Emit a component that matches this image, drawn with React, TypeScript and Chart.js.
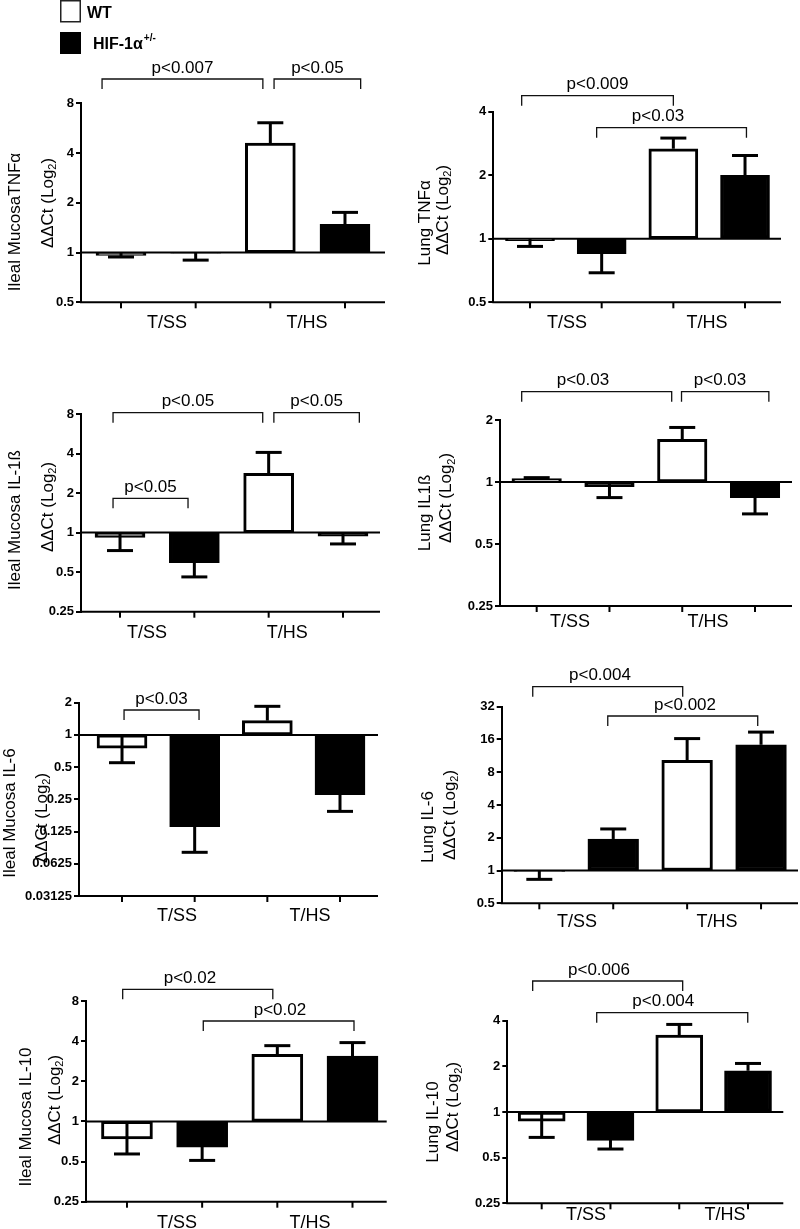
import React, { useEffect, useRef } from 'react';
import { Chart, registerables } from 'chart.js';

Chart.register(...registerables);

const FONT = "'Liberation Sans', Arial, Helvetica, sans-serif";
Chart.defaults.font.family = FONT;

// ---------------- data ----------------
const GROUPS = ['T/SS', 'T/HS'];
const SERIES = ['WT', 'HIF-1α'];
const SERIES_SUP = ['', '+/-'];

const TICKS_05_8 = [0.5, 1, 2, 4, 8];
const TICKS_05_8_LABELS = ['0.5', '1', '2', '4', '8'];
const TICKS_05_4 = [0.5, 1, 2, 4];
const TICKS_05_4_LABELS = ['0.5', '1', '2', '4'];
const TICKS_025_8 = [0.25, 0.5, 1, 2, 4, 8];
const TICKS_025_8_LABELS = ['0.25', '0.5', '1', '2', '4', '8'];
const TICKS_025_2 = [0.25, 0.5, 1, 2];
const TICKS_025_2_LABELS = ['0.25', '0.5', '1', '2'];
const TICKS_003_2 = [0.03125, 0.0625, 0.125, 0.25, 0.5, 1, 2];
const TICKS_003_2_LABELS = ['0.03125', '0.0625', '0.125', '0.25', '0.5', '1', '2'];
const TICKS_05_32 = [0.5, 1, 2, 4, 8, 16, 32];
const TICKS_05_32_LABELS = ['0.5', '1', '2', '4', '8', '16', '32'];
const TICKS_025_4 = [0.25, 0.5, 1, 2, 4];
const TICKS_025_4_LABELS = ['0.25', '0.5', '1', '2', '4'];

// mean (ΔΔCt fold) per group and the end of its error bar
const ILEAL_TNF_WT = [0.96, 4.6];
const ILEAL_TNF_WT_ERR = [0.94, 6.1];
const ILEAL_TNF_HIF = [0.99, 1.48];
const ILEAL_TNF_HIF_ERR = [0.9, 1.75];
const ILEAL_TNF_P = ['p<0.007', 'p<0.05'];

const LUNG_TNF_WT = [0.98, 2.67];
const LUNG_TNF_WT_ERR = [0.92, 3.0];
const LUNG_TNF_HIF = [0.85, 2.0];
const LUNG_TNF_HIF_ERR = [0.69, 2.48];
const LUNG_TNF_P = ['p<0.009', 'p<0.03'];

const ILEAL_IL1_WT = [0.92, 2.83];
const ILEAL_IL1_WT_ERR = [0.73, 4.08];
const ILEAL_IL1_HIF = [0.59, 0.94];
const ILEAL_IL1_HIF_ERR = [0.46, 0.82];
const ILEAL_IL1_P = ['p<0.05', 'p<0.05', 'p<0.05'];

const LUNG_IL1_WT = [1.04, 1.61];
const LUNG_IL1_WT_ERR = [1.05, 1.84];
const LUNG_IL1_HIF = [0.95, 0.84];
const LUNG_IL1_HIF_ERR = [0.84, 0.7];
const LUNG_IL1_P = ['p<0.03', 'p<0.03'];

const ILEAL_IL6_WT = [0.75, 1.36];
const ILEAL_IL6_WT_ERR = [0.55, 1.85];
const ILEAL_IL6_HIF = [0.139, 0.277];
const ILEAL_IL6_HIF_ERR = [0.08, 0.193];
const ILEAL_IL6_P = ['p<0.03'];

const LUNG_IL6_WT = [0.98, 10.3];
const LUNG_IL6_WT_ERR = [0.83, 16.3];
const LUNG_IL6_HIF = [1.95, 14.3];
const LUNG_IL6_HIF_ERR = [2.41, 18.7];
const LUNG_IL6_P = ['p<0.004', 'p<0.002'];

const ILEAL_IL10_WT = [0.74, 3.18];
const ILEAL_IL10_WT_ERR = [0.57, 3.7];
const ILEAL_IL10_HIF = [0.64, 3.09];
const ILEAL_IL10_HIF_ERR = [0.51, 3.9];
const ILEAL_IL10_P = ['p<0.02', 'p<0.02'];

const LUNG_IL10_WT = [0.87, 3.21];
const LUNG_IL10_WT_ERR = [0.68, 3.78];
const LUNG_IL10_HIF = [0.65, 1.87];
const LUNG_IL10_HIF_ERR = [0.57, 2.09];
const LUNG_IL10_P = ['p<0.006', 'p<0.004'];

// ---------------- layout ----------------
type Bracket = { x1: number; x2: number; dy: number; tx?: number };
type Panel = {
  box: [number, number, number, number];
  area: [number, number, number, number]; // L, T, R, B (page px)
  xRange: [number, number];
  barW: number;
  yRange: [number, number];
  ticks: number[];
  tickLabels: string[];
  wt: number[];
  wtErr: number[];
  hif: number[];
  hifErr: number[];
  pLabels: string[];
  brackets: Bracket[];
  groupX: [number, number];
  groupDy: number;
  title: string;
  titlePos: [[number, number], [number, number]];
  legend?: boolean;
};

const PANELS: Panel[] = [
  {
    box: [0, 0, 400, 332], area: [81, 103.3, 385, 302.3], xRange: [-0.536, 3.536], barW: 50,
    yRange: [0.5, 8], ticks: TICKS_05_8, tickLabels: TICKS_05_8_LABELS,
    wt: ILEAL_TNF_WT, wtErr: ILEAL_TNF_WT_ERR, hif: ILEAL_TNF_HIF, hifErr: ILEAL_TNF_HIF_ERR,
    pLabels: ILEAL_TNF_P,
    brackets: [{ x1: -0.254, x2: 1.9, dy: -24.3 }, { x1: 2.05, x2: 3.21, dy: -24.3 }],
    groupX: [0.616, 2.49], groupDy: 20.7,
    title: 'Ileal MucosaTNFα', titlePos: [[15, 222], [48, 203]], legend: true,
  },
  {
    box: [400, 0, 400, 332], area: [493.3, 111.7, 781, 302.3], xRange: [-0.512, 3.502], barW: 49,
    yRange: [0.5, 4], ticks: TICKS_05_4, tickLabels: TICKS_05_4_LABELS,
    wt: LUNG_TNF_WT, wtErr: LUNG_TNF_WT_ERR, hif: LUNG_TNF_HIF, hifErr: LUNG_TNF_HIF_ERR,
    pLabels: LUNG_TNF_P,
    brackets: [{ x1: -0.116, x2: 2.0, dy: -16 }, { x1: 0.93, x2: 3.02, dy: 16, tx: 1.786 }],
    groupX: [0.516, 2.47], groupDy: 20.7,
    title: 'Lung TNFα', titlePos: [[425, 223], [443, 210]],
  },
  {
    box: [0, 332, 400, 310], area: [81, 414, 380, 611.7], xRange: [-0.525, 3.498], barW: 50,
    yRange: [0.25, 8], ticks: TICKS_025_8, tickLabels: TICKS_025_8_LABELS,
    wt: ILEAL_IL1_WT, wtErr: ILEAL_IL1_WT_ERR, hif: ILEAL_IL1_HIF, hifErr: ILEAL_IL1_HIF_ERR,
    pLabels: ILEAL_IL1_P,
    brackets: [{ x1: -0.094, x2: 1.92, dy: -1.3 }, { x1: 2.07, x2: 3.22, dy: -1.3 }, { x1: -0.094, x2: 0.915, dy: 84.3 }],
    groupX: [0.363, 2.25], groupDy: 21.3,
    title: 'Ileal Mucosa IL-1ß', titlePos: [[15, 520], [48, 507]],
  },
  {
    box: [400, 332, 400, 310], area: [500, 420, 792, 606], xRange: [-0.504, 3.508], barW: 49.5,
    yRange: [0.25, 2], ticks: TICKS_025_2, tickLabels: TICKS_025_2_LABELS,
    wt: LUNG_IL1_WT, wtErr: LUNG_IL1_WT_ERR, hif: LUNG_IL1_HIF, hifErr: LUNG_IL1_HIF_ERR,
    pLabels: LUNG_IL1_P,
    brackets: [{ x1: -0.206, x2: 1.855, dy: -28.3, tx: 0.636 }, { x1: 1.99, x2: 3.19, dy: -28.3, tx: 2.519 }],
    groupX: [0.458, 2.354], groupDy: 15.7,
    title: 'Lung IL1ß', titlePos: [[425, 513], [446.7, 498]],
  },
  {
    box: [0, 642, 400, 292], area: [79, 702.7, 378, 896], xRange: [-0.592, 3.523], barW: 50,
    yRange: [0.03125, 2], ticks: TICKS_003_2, tickLabels: TICKS_003_2_LABELS,
    wt: ILEAL_IL6_WT, wtErr: ILEAL_IL6_WT_ERR, hif: ILEAL_IL6_HIF, hifErr: ILEAL_IL6_HIF_ERR,
    pLabels: ILEAL_IL6_P,
    brackets: [{ x1: 0.028, x2: 1.06, dy: 7.3 }],
    groupX: [0.757, 2.587], groupDy: 19.7,
    title: 'Ileal Mucosa IL-6', titlePos: [[10, 813], [42, 818]],
  },
  {
    box: [400, 642, 400, 292], area: [501.7, 706.7, 798, 903.3], xRange: [-0.509, 3.5], barW: 50.7,
    yRange: [0.5, 32], ticks: TICKS_05_32, tickLabels: TICKS_05_32_LABELS,
    wt: LUNG_IL6_WT, wtErr: LUNG_IL6_WT_ERR, hif: LUNG_IL6_HIF, hifErr: LUNG_IL6_HIF_ERR,
    pLabels: LUNG_IL6_P,
    brackets: [{ x1: -0.089, x2: 1.94, dy: -20, tx: 0.821 }, { x1: 0.926, x2: 2.955, dy: 9.3, tx: 1.972 }],
    groupX: [0.51, 2.405], groupDy: 18.4,
    title: 'Lung IL-6', titlePos: [[428.3, 827], [450, 815]],
  },
  {
    box: [0, 934, 400, 295], area: [86, 1001, 386.7, 1201.7], xRange: [-0.545, 3.455], barW: 51,
    yRange: [0.25, 8], ticks: TICKS_025_8, tickLabels: TICKS_025_8_LABELS,
    wt: ILEAL_IL10_WT, wtErr: ILEAL_IL10_WT_ERR, hif: ILEAL_IL10_HIF, hifErr: ILEAL_IL10_HIF_ERR,
    pLabels: ILEAL_IL10_P,
    brackets: [{ x1: -0.057, x2: 1.94, dy: -11.7, tx: 0.838 }, { x1: 1.015, x2: 3.02, dy: 20, tx: 2.035 }],
    groupX: [0.665, 2.434], groupDy: 21.3,
    title: 'Ileal Mucosa IL-10', titlePos: [[26, 1117], [55, 1100]],
  },
  {
    box: [400, 934, 400, 295], area: [507.3, 1020.7, 783.3, 1203.3], xRange: [-0.5, 3.513], barW: 47,
    yRange: [0.25, 4], ticks: TICKS_025_4, tickLabels: TICKS_025_4_LABELS,
    wt: LUNG_IL10_WT, wtErr: LUNG_IL10_WT_ERR, hif: LUNG_IL10_HIF, hifErr: LUNG_IL10_HIF_ERR,
    pLabels: LUNG_IL10_P,
    brackets: [{ x1: -0.131, x2: 2.05, dy: -39.7, tx: 0.833 }, { x1: 0.8, x2: 2.996, dy: -8, tx: 1.768 }],
    groupX: [0.644, 2.665], groupDy: 11.7,
    title: 'Lung IL-10', titlePos: [[433.3, 1122], [453.3, 1107]],
  },
];

const YW = 60;

function seg(ctx: CanvasRenderingContext2D, x1: number, y1: number, x2: number, y2: number) {
  ctx.beginPath();
  ctx.moveTo(x1, y1);
  ctx.lineTo(x2, y2);
  ctx.stroke();
}

function drawVertical(
  ctx: CanvasRenderingContext2D,
  parts: { t: string; sub?: boolean }[],
  cx: number,
  cy: number,
  size: number
) {
  ctx.save();
  ctx.translate(cx, cy);
  ctx.rotate(-Math.PI / 2);
  const main = `${size}px ${FONT}`;
  const small = `${Math.round(size * 0.65)}px ${FONT}`;
  let total = 0;
  parts.forEach((p) => {
    ctx.font = p.sub ? small : main;
    total += ctx.measureText(p.t).width;
  });
  let x = -total / 2;
  ctx.textBaseline = 'middle';
  ctx.textAlign = 'left';
  ctx.fillStyle = '#000';
  parts.forEach((p) => {
    ctx.font = p.sub ? small : main;
    ctx.fillText(p.t, x, p.sub ? size * 0.32 : 0);
    x += ctx.measureText(p.t).width;
  });
  ctx.restore();
}

function makeChart(canvas: HTMLCanvasElement, p: Panel) {
  const [bx, by, bw, bh] = p.box;
  const [L, T, R, B] = p.area;

  const decor = {
    id: 'decor',
    afterDraw(chart: any) {
      const ctx: CanvasRenderingContext2D = chart.ctx;
      const { left, right, top, bottom } = chart.chartArea;
      const xs = chart.scales.x;
      const ys = chart.scales.y;
      ctx.save();
      ctx.strokeStyle = '#000';
      ctx.fillStyle = '#000';
      ctx.lineCap = 'butt';

      // baseline at 1
      ctx.lineWidth = 2;
      const y1 = ys.getPixelForValue(1);
      seg(ctx, left, y1, right, y1);
      // x axis
      seg(ctx, left - 1, bottom, right, bottom);

      // error bars + x ticks
      const errs = [p.wtErr, p.hifErr];
      [0, 1].forEach((d) => {
        const meta = chart.getDatasetMeta(d);
        meta.data.forEach((el: any, i: number) => {
          const ey = ys.getPixelForValue(errs[d][i]);
          ctx.lineWidth = 3;
          seg(ctx, el.x, el.y, el.x, ey);
          seg(ctx, el.x - 13, ey, el.x + 13, ey);
          ctx.lineWidth = 2;
          seg(ctx, el.x, bottom, el.x, bottom + 6);
        });
      });

      // group labels
      ctx.font = `18px ${FONT}`;
      ctx.textAlign = 'center';
      ctx.textBaseline = 'middle';
      GROUPS.forEach((g, i) => {
        ctx.fillText(g, xs.getPixelForValue(p.groupX[i]), bottom + p.groupDy);
      });

      // significance brackets
      ctx.lineWidth = 1.3;
      ctx.strokeStyle = '#111';
      ctx.font = `17px ${FONT}`;
      ctx.textBaseline = 'alphabetic';
      p.brackets.forEach((b, i) => {
        const x1 = xs.getPixelForValue(b.x1);
        const x2 = xs.getPixelForValue(b.x2);
        const y = top + b.dy;
        ctx.beginPath();
        ctx.moveTo(x1, y + 10);
        ctx.lineTo(x1, y);
        ctx.lineTo(x2, y);
        ctx.lineTo(x2, y + 10);
        ctx.stroke();
        const tx = b.tx !== undefined ? xs.getPixelForValue(b.tx) : (x1 + x2) / 2;
        ctx.fillText(p.pLabels[i], tx, y - 6.5);
      });

      // y titles
      drawVertical(ctx, [{ t: p.title }], p.titlePos[0][0] - bx, p.titlePos[0][1] - by, 17);
      drawVertical(
        ctx,
        [{ t: 'ΔΔCt (Log' }, { t: '2', sub: true }, { t: ')' }],
        p.titlePos[1][0] - bx,
        p.titlePos[1][1] - by,
        17
      );

      // legend
      if (p.legend) {
        ctx.lineWidth = 1.5;
        ctx.strokeStyle = '#222';
        ctx.fillStyle = '#fff';
        ctx.fillRect(61, 1, 19, 20);
        ctx.strokeRect(60.75, 0.75, 19.5, 21);
        ctx.fillStyle = '#000';
        ctx.fillRect(60, 32, 21, 22);
        ctx.textAlign = 'left';
        ctx.textBaseline = 'alphabetic';
        ctx.font = `bold 16px ${FONT}`;
        ctx.fillText(SERIES[0], 87, 18);
        ctx.fillText(SERIES[1], 93, 48.5);
        const w = ctx.measureText(SERIES[1]).width;
        ctx.font = `bold 10px ${FONT}`;
        ctx.fillText(SERIES_SUP[1], 93 + w + 1, 41);
      }
      ctx.restore();
    },
  };

  const barCommon = {
    borderColor: '#000',
    borderWidth: 3,
    borderSkipped: false,
    grouped: false,
    barThickness: p.barW,
  };

  return new Chart(canvas, {
    type: 'bar',
    data: {
      datasets: [
        {
          ...barCommon,
          label: SERIES[0],
          data: GROUPS.map((g, i) => ({ x: 2 * i, y: [1, p.wt[i]] })),
          backgroundColor: '#fff',
        },
        {
          ...barCommon,
          label: SERIES[1] + SERIES_SUP[1],
          data: GROUPS.map((g, i) => ({ x: 2 * i + 1, y: [1, p.hif[i]] })),
          backgroundColor: '#000',
        },
      ] as any,
    },
    options: {
      responsive: false,
      animation: false,
      devicePixelRatio: 1,
      layout: {
        padding: { left: L - bx - YW, right: bx + bw - R, top: T - by, bottom: by + bh - B },
      },
      plugins: { legend: { display: false }, tooltip: { enabled: false } },
      scales: {
        x: {
          type: 'linear',
          display: false,
          offset: false,
          min: p.xRange[0],
          max: p.xRange[1],
          afterBuildTicks: (s: any) => {
            s.ticks = [0, 1, 2, 3].map((v) => ({ value: v }));
          },
        },
        y: {
          type: 'logarithmic',
          min: p.yRange[0],
          max: p.yRange[1],
          afterBuildTicks: (s: any) => {
            s.ticks = p.ticks.map((v) => ({ value: v }));
          },
          afterFit: (s: any) => {
            s.width = YW;
          },
          ticks: {
            autoSkip: false,
            padding: 2,
            color: '#000',
            font: { family: FONT, size: 13, weight: 'bold' },
            callback: (_v: any, i: number) => p.tickLabels[i],
          },
          grid: {
            display: true,
            drawOnChartArea: false,
            drawTicks: true,
            tickLength: 5,
            lineWidth: 2,
            color: '#000',
            tickColor: '#000',
          },
          border: { display: true, color: '#000', width: 2 },
        },
      },
    } as any,
    plugins: [decor],
  });
}

export default function App() {
  const refs = useRef<(HTMLCanvasElement | null)[]>([]);
  useEffect(() => {
    const charts = PANELS.map((p, i) => makeChart(refs.current[i] as HTMLCanvasElement, p));
    return () => charts.forEach((c) => c.destroy());
  }, []);
  return (
    <div style={{ position: 'absolute', left: 0, top: 0, width: 800, height: 1229, background: '#fff', overflow: 'hidden' }}>
      {PANELS.map((p, i) => (
        <canvas
          key={i}
          ref={(el) => {
            refs.current[i] = el;
          }}
          width={p.box[2]}
          height={p.box[3]}
          style={{ position: 'absolute', left: p.box[0], top: p.box[1], width: p.box[2], height: p.box[3] }}
        />
      ))}
    </div>
  );
}
